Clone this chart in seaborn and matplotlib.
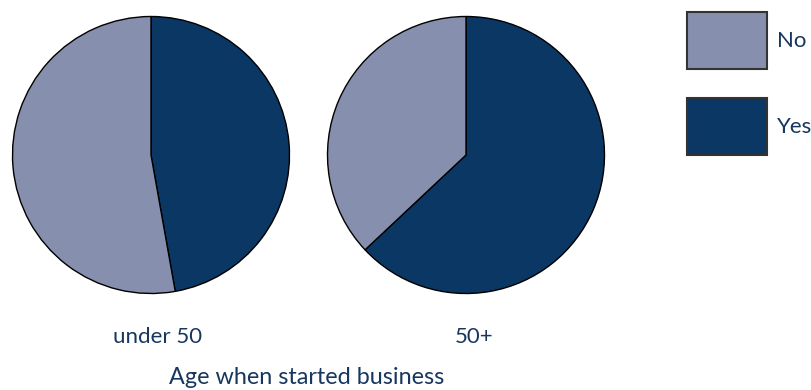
import matplotlib
matplotlib.use("Agg")
import matplotlib.pyplot as plt
import seaborn as sns
from matplotlib.patches import Patch

sns.set_theme(style="white")
plt.rcParams['font.family'] = ['Lato', 'DejaVu Sans']

groups = ["under 50", "50+"]
answers = ["Yes", "No"]
yes_share = [0.472, 0.630]
no_share = [0.528, 0.370]
axis_title = "Age when started business"

colors = {"Yes": "#0b3764", "No": "#8690ae"}
text_color = "#17375e"

W, H = 811, 390
fig = plt.figure(figsize=(W / 100, H / 100), dpi=100)

centers = [(151, 155), (466, 155)]
R = 138.5
for (cx, cy), g, y, n in zip(centers, groups, yes_share, no_share):
    ax = fig.add_axes([(cx - R) / W, (H - cy - R) / H, 2 * R / W, 2 * R / H])
    ax.pie([y, n], colors=[colors["Yes"], colors["No"]], startangle=90,
           counterclock=False,
           wedgeprops=dict(edgecolor="black", linewidth=1.0))
    ax.set_xlim(-1.0, 1.0)
    ax.set_ylim(-1.0, 1.0)
    ax.set_aspect("auto")
    ax.axis("off")

fs = 16
fig.text(158 / W, 1 - 337 / H, groups[0], ha="center", va="center", fontsize=fs, color=text_color)
fig.text(474 / W, 1 - 337 / H, groups[1], ha="center", va="center", fontsize=fs, color=text_color)
fig.text(307 / W, 1 - 378 / H, axis_title, ha="center", va="center", fontsize=16.8, color=text_color)

handles = [Patch(facecolor=colors["No"], edgecolor="#333333", linewidth=1.5, label="No"),
           Patch(facecolor=colors["Yes"], edgecolor="#333333", linewidth=1.5, label="Yes")]
leg = fig.legend(handles=handles, loc="upper left", bbox_to_anchor=(687 / W, 1 - 12 / H),
                 frameon=False, fontsize=fs, handlelength=3.6, handleheight=3.57,
                 labelspacing=1.3, handletextpad=0.45, borderpad=0, borderaxespad=0)
for t in leg.get_texts():
    t.set_color(text_color)

fig.savefig("out.png", dpi=100)
